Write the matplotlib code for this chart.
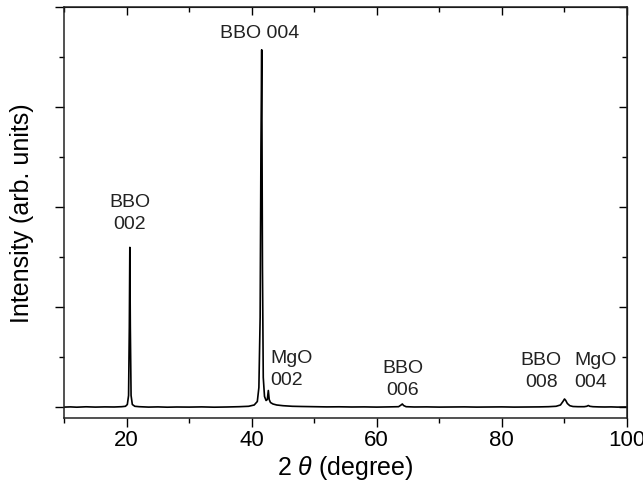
import matplotlib
matplotlib.use('Agg')
import matplotlib.pyplot as plt
from matplotlib.ticker import MultipleLocator

plt.rcParams['font.family'] = ['Liberation Sans', 'DejaVu Sans']
plt.rcParams['mathtext.fontset'] = 'custom'
plt.rcParams['mathtext.rm'] = 'Liberation Sans'
plt.rcParams['mathtext.it'] = 'Liberation Sans:italic'

# 2theta (deg) and intensity (arb.)
two_theta = [10, 11, 12, 13.5, 15, 16.5, 18, 19.2, 19.8, 20.1, 20.3, 20.42, 20.5,
             20.58, 20.7, 20.9, 21.3, 22, 23.5, 25, 26.5, 28, 30, 32, 34, 36, 38,
             39.5, 40.4, 40.9, 41.15, 41.35, 41.48, 41.6, 41.72, 41.85, 42.05,
             42.3, 42.5, 42.66, 42.8, 43.0, 43.4, 44, 45, 46.5, 48, 50, 52, 54,
             56, 58, 60, 62, 63.5, 63.9, 64.1, 64.3, 64.7, 66, 68, 70, 72, 74, 76,
             78, 80, 82, 84, 86, 87.5, 88.7, 89.4, 89.8, 90.05, 90.25, 90.5, 90.9,
             91.4, 92.2, 93.2, 93.6, 93.86, 94.1, 94.6, 95.5, 96.5, 97.5, 98.5, 100]
intensity = [0.004, 0.006, 0.003, 0.007, 0.004, 0.006, 0.005, 0.008, 0.012, 0.03,
             0.12, 0.8, 1.6, 0.8, 0.12, 0.03, 0.012, 0.008, 0.004, 0.006, 0.003,
             0.005, 0.004, 0.006, 0.003, 0.005, 0.008, 0.012, 0.025, 0.06, 0.2,
             0.9, 2.6, 3.575, 1.4, 0.3, 0.11, 0.07, 0.08, 0.17, 0.08, 0.05, 0.035,
             0.025, 0.018, 0.012, 0.01, 0.008, 0.006, 0.007, 0.005, 0.006, 0.004,
             0.006, 0.008, 0.025, 0.035, 0.02, 0.008, 0.005, 0.006, 0.004, 0.005,
             0.006, 0.004, 0.005, 0.006, 0.004, 0.005, 0.006, 0.008, 0.012, 0.025,
             0.06, 0.085, 0.07, 0.04, 0.018, 0.01, 0.008, 0.008, 0.012, 0.02, 0.012,
             0.008, 0.006, 0.005, 0.006, 0.004, 0.005]

# peak labels: text, x, y (data, baseline of last line), alignment
labels = ['BBO 004', 'BBO\n002', 'MgO\n002', 'BBO\n006', 'BBO\n008', 'MgO\n004']
label_x = [41.33, 20.5, 43.04, 64.2, 86.3, 91.57]
label_y = [3.69, 1.785, 0.225, 0.125, 0.20, 0.20]
label_ha = ['center', 'center', 'left', 'center', 'center', 'left']

fig = plt.figure(figsize=(6.43, 4.94), dpi=100)
ax = fig.add_axes([64.2/643, 1 - 418.3/494, (626.7 - 64.2)/643, (418.3 - 7.3)/494])

ax.plot(two_theta, intensity, color='black', lw=1.2)

for t, x, y, ha in zip(labels, label_x, label_y, label_ha):
    lines = t.split('\n')
    # stack lines upward from the baseline of the last one
    for i, ln in enumerate(reversed(lines)):
        ax.annotate(ln, (x, y), xytext=(0, i * 16), textcoords='offset points',
                    ha=ha, va='baseline', fontsize=14, color='#222222')

ax.set_xlim(10, 100)
ax.set_ylim(-0.108, 4.0)
ax.xaxis.set_major_locator(MultipleLocator(20))
ax.xaxis.set_minor_locator(MultipleLocator(10))
ax.yaxis.set_major_locator(MultipleLocator(1))
ax.yaxis.set_minor_locator(MultipleLocator(0.5))
ax.tick_params(which='both', direction='out', width=1.0, labelsize=16, pad=2)
ax.tick_params(which='major', length=6.5)
ax.tick_params(which='minor', length=3.3)
ax.tick_params(axis='y', labelleft=False)
for s in ax.spines.values():
    s.set_linewidth(1.1)
    s.set_color('#222222')

top = ax.secondary_xaxis('top')
top.xaxis.set_major_locator(MultipleLocator(20))
top.xaxis.set_minor_locator(MultipleLocator(10))
top.tick_params(which='both', direction='in', width=1.0, labeltop=False)
top.tick_params(which='major', length=6)
top.tick_params(which='minor', length=3.5)

right = ax.secondary_yaxis('right')
right.yaxis.set_major_locator(MultipleLocator(1))
right.yaxis.set_minor_locator(MultipleLocator(0.5))
right.tick_params(which='both', direction='in', width=1.0, labelright=False)
right.tick_params(which='major', length=6)
right.tick_params(which='minor', length=3.5)

ax.set_xlabel(r'2 $\theta$ (degree)', fontsize=18, labelpad=2)
ax.set_ylabel('Intensity (arb. units)', fontsize=18, labelpad=15)

fig.savefig('out.png', dpi=100)
